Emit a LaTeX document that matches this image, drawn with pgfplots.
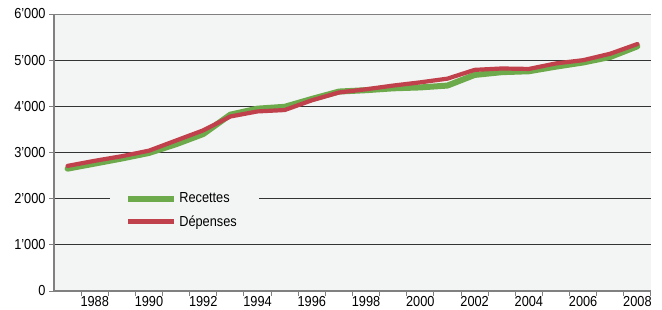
\documentclass[border=0pt]{standalone}
\usepackage{fontspec}
\setmainfont[FakeStretch=0.88]{Liberation Sans}
\usepackage{pgfplots}
\pgfplotsset{compat=1.18}
\definecolor{bg}{HTML}{F3F5F4}
\definecolor{grn}{HTML}{6DAA4C}
\definecolor{rd}{HTML}{C0404C}
\definecolor{axg}{HTML}{808080}
\begin{document}
\begin{tikzpicture}[font=\fontsize{14.5}{16}\selectfont]
\begin{axis}[
  width=597pt, height=277pt, scale only axis,
  xmin=1986.5, xmax=2008.5, ymin=0, ymax=6000,
  axis background/.style={fill=bg},
  axis x line*=bottom, axis y line*=left,
  axis line style={axg, line width=1.4pt},
  tick align=outside, major tick length=5pt,
  tick style={axg, line width=1pt},
  xtick={1987.5,1988.5,...,2008.5}, xticklabels={},
  extra x ticks={1988,1990,...,2008},
  extra x tick style={major tick length=0pt, xticklabel style={yshift=-2pt}},
  extra x tick labels={1988,1990,1992,1994,1996,1998,2000,2002,2004,2006,2008},
  ytick={0,1000,...,6000},
  ymajorgrids, major grid style={black!80, line width=0.8pt},
  yticklabel style={/pgf/number format/.cd, 1000 sep={’}, assume math mode=true},
  legend style={at={(0.094,0.38)}, anchor=north west, fill=bg, draw=none,
    inner xsep=15pt, inner ysep=5pt, row sep=7pt},
  legend cell align=left,
  legend image code/.code={\draw[#1, line cap=butt] (0pt,0pt) -- (46pt,0pt);},
]
\addplot[grn, line width=6pt, line cap=round, line join=round] coordinates {
(1987,2650) (1988,2760) (1989,2870) (1990,2990) (1991,3180) (1992,3400)
(1993,3820) (1994,3950) (1995,3990) (1996,4160) (1997,4320) (1998,4350)
(1999,4390) (2000,4410) (2001,4450) (2002,4680) (2003,4740) (2004,4760)
(2005,4860) (2006,4950) (2007,5070) (2008,5300)};
\addlegendentry{\makebox[63pt][l]{Recettes}}
\addplot[rd, line width=4.2pt, line cap=round, line join=round] coordinates {
(1987,2710) (1988,2820) (1989,2920) (1990,3040) (1991,3260) (1992,3480)
(1993,3780) (1994,3890) (1995,3920) (1996,4130) (1997,4300) (1998,4370)
(1999,4450) (2000,4520) (2001,4600) (2002,4790) (2003,4820) (2004,4810)
(2005,4930) (2006,5000) (2007,5140) (2008,5350)};
\addlegendentry{\makebox[63pt][l]{Dépenses}}
\draw[axg, line width=1.2pt] (rel axis cs:0,1) -- (rel axis cs:1,1);
\end{axis}
\pgfresetboundingbox
\path (-54pt,-18pt) rectangle (608pt,291pt);
\end{tikzpicture}
\end{document}
